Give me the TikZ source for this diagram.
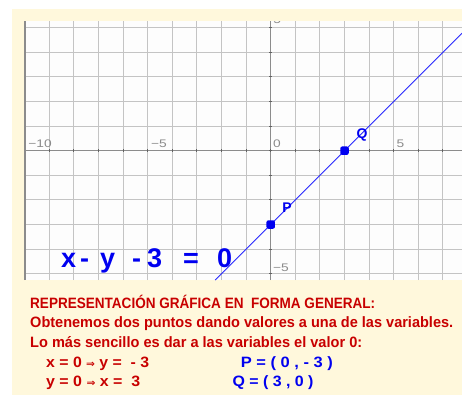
\documentclass[tikz,border=0pt]{standalone}
\usepackage{fontspec}
\setmainfont{Liberation Sans}
\newfontfamily\arrfont{DejaVu Sans}
\usepackage{graphicx}
\definecolor{beige}{HTML}{FFF8DC}
\definecolor{gridbg}{HTML}{FDFDFD}
\definecolor{gridgray}{HTML}{C4C4C4}
\definecolor{axisgray}{HTML}{8C8C8C}
\definecolor{lblgray}{HTML}{8A8A8A}
\definecolor{txtred}{HTML}{C80000}
\definecolor{txtblue}{HTML}{0000F0}
\definecolor{lineblue}{HTML}{2828FF}
\newcommand{\fitw}[2]{\resizebox{#1pt}{\height}{#2}}
\newcommand{\wide}[1]{\scalebox{1.25}[1]{#1}}
\newcommand{\imp}{{\arrfont\bfseries\fontsize{10}{10}\selectfont ⇒}}
\tikzset{
  gridline/.style={gridgray, line width=1.1pt},
  axisline/.style={axisgray, line width=0.9pt},
  ticks/.style={axisgray!70!black, line width=1pt},
  axlbl/.style={lblgray, font=\fontsize{11}{11}\selectfont, inner sep=0pt},
  dot/.style={rectangle, rounded corners=2pt, fill=txtblue, inner sep=0pt, minimum size=8.5pt},
  ptlbl/.style={txtblue, font=\fontsize{14}{14}\selectfont\bfseries, inner sep=0pt},
  redtxt/.style={txtred, font=\fontsize{15}{15}\selectfont\bfseries, inner sep=0pt, anchor=base west},
  bluetxt/.style={txtblue, font=\fontsize{15}{15}\selectfont\bfseries, inner sep=0pt, anchor=base west},
  eqtxt/.style={txtblue, font=\fontsize{27}{27}\selectfont\bfseries, inner sep=0pt, anchor=base west},
  gline/.style={lineblue, line width=0.8pt}
}
\begin{document}
\begin{tikzpicture}[x=1pt,y=-1pt]
\useasboundingbox (0,0) rectangle (462,396);
\fill[white] (0,0) rectangle (462,396);
\fill[beige] (12,9) rectangle (462,395);
\fill[gridbg] (25,21) rectangle (462,280);
\begin{scope}[shift={(270.7,150.7)}, x=24.6pt, y=24.6pt]
  \begin{scope}
    \clip (-10,-5.256) rectangle (7.776,5.272);
    \foreach \i in {-10,...,7} \draw[gridline] (\i,-5.256) -- (\i,5.272);
    \foreach \j in {-5,...,5} \draw[gridline] (-10,\j) -- (7.776,\j);
    \draw[axisline] (-10,0) -- (7.776,0);
    \draw[axisline] (0,-5.256) -- (0,5.272);
    \foreach \i in {-9,...,7} \draw[ticks] (\i,-0.05) -- (\i,0.05);
    \foreach \j in {-5,...,5} \draw[ticks] (-0.05,\j) -- (0.05,\j);
    \node[axlbl] (l5top) at (0.26,5.32) {\wide{5}};
    \coordinate (A) at (-2.256,-5.256);
    \coordinate (B) at (7.776,4.776);
    \draw[gline] (A) -- (B);
  \end{scope}
  \draw[axisgray, line width=1.6pt] (-10,-5.256) -- (-10,5.272);
  \node[dot] (P) at (0,-3) {};
  \node[dot] (Q) at (3,0) {};
\end{scope}
% axis labels
\node[axlbl] (lm10) at (40,143.5) {\wide{−10}};
\node[axlbl] (lm5) at (159,143.5) {\wide{−5}};
\node[axlbl] (l0) at (277,143.5) {\wide{0}};
\node[axlbl] (l5) at (400.5,143.5) {\wide{5}};
\node[axlbl] (lm5y) at (281,267.5) {\wide{−5}};
% point labels
\node[ptlbl] (Plab) at (287,208) {P};
\node[ptlbl] (Qlab) at (362,135) {Q};
% equation
\node[eqtxt] (eq) at (61,267) {\makebox[19pt][l]{x}\makebox[20pt][l]{-}\makebox[32pt][l]{y}\makebox[15pt][l]{-}\makebox[36pt][l]{3}\makebox[34pt][l]{=}0};
% text block
\node[redtxt] (t1) at (30,308) {\fitw{345}{REPRESENTACIÓN GRÁFICA EN\ \ FORMA GENERAL:}};
\node[redtxt] (t2) at (30,327.7) {\fitw{423}{Obtenemos dos puntos dando valores a una de las variables.}};
\node[redtxt] (t3) at (30,347.7) {\fitw{332}{Lo más sencillo es dar a las variables el valor 0:}};
\node[redtxt] (t4) at (46,367.3) {\fitw{103}{x = 0 \imp{} y =\ \ - 3}};
\node[redtxt] (t5) at (46,386.7) {\fitw{94}{y = 0 \imp{} x =\ \ 3}};
\node[bluetxt] (t6) at (240.7,367.3) {\fitw{92}{P = ( 0 , - 3 )}};
\node[bluetxt] (t7) at (232.3,386.7) {\fitw{81}{Q = ( 3 , 0 )}};
\end{tikzpicture}
\end{document}
